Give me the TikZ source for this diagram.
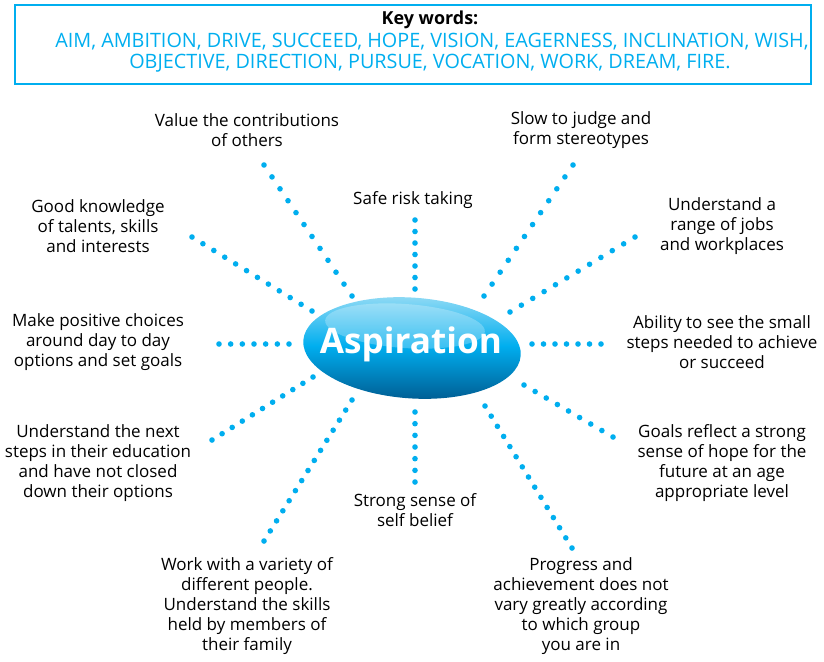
\documentclass[tikz,border=0pt]{standalone}
\usepackage{fontspec}
\setmainfont{Open Sans}
\usetikzlibrary{calc,shapes.geometric}
\definecolor{aspBlue}{RGB}{0,174,239}
\definecolor{aspDark}{RGB}{0,96,150}
\definecolor{aspLight}{RGB}{150,220,245}
\tikzset{
    every node/.append style={align=center},
    lbl/.style={font=\fontsize{14.5}{17}\selectfont,text=black,inner sep=0pt},
    kw/.style={font=\fontsize{16.9}{17}\selectfont,text=aspBlue,inner sep=0pt},
    dotc/.style={fill=aspBlue}
}
% row of round dots from one coordinate to another
\newcommand\dotrow[3]{%
    \foreach \i in {0,...,#3}{%
        \fill[dotc] ($(#1)!{\i/#3}!(#2)$) circle (2.8);}}

\begin{document}
\begin{tikzpicture}[x=0.03cm,y=-0.03cm]
    \useasboundingbox (0,0) rectangle (824,661);

    % key words box
    \draw[aspBlue,line width=2.4] (15,5) rectangle (811,84);
    \node[font=\fontsize{15.3}{17}\selectfont\bfseries,inner sep=0pt] (kwtitle) at (430,20) {Key words:};
    \node[kw] (kwline1) at (432,42) {AIM, AMBITION, DRIVE, SUCCEED, HOPE, VISION, EAGERNESS, INCLINATION, WISH,};
    \node[kw] (kwline2) at (430,63) {OBJECTIVE, DIRECTION, PURSUE, VOCATION, WORK, DREAM, FIRE.};

    % centre blob
    \node[ellipse,rotate=-4,minimum width=186pt,minimum height=86pt,inner sep=0pt,
        top color=aspLight,bottom color=aspDark,middle color=aspBlue] (asp) at (412,348) {};
    \fill[white,opacity=0.25,rotate around={-4:(405,326)}] (405,326) ellipse (80 and 22);
    \node[font=\fontsize{30}{32}\selectfont\bfseries,text=white,inner sep=0pt] (asptext) at (411,344) {Aspiration};

    % labels
    \node[lbl] (value)    at (247,130) {Value the contributions\\of others};
    \node[lbl] (knowl)    at (98,226)  {Good knowledge\\of talents, skills\\and interests};
    \node[lbl] (risk)     at (413,200) {Safe risk taking};
    \node[lbl] (judge)    at (581,130) {Slow to judge and\\form stereotypes};
    \node[lbl] (jobs)     at (722,226) {Understand a\\range of jobs\\and workplaces};
    \node[lbl] (choices)  at (98,342)  {Make positive choices\\around day to day\\options and set goals};
    \node[lbl] (steps)    at (722,342) {Ability to see the small\\steps needed to achieve\\or succeed};
    \node[lbl] (nextstep) at (98,463)  {Understand the next\\steps in their education\\and have not closed\\down their options};
    \node[lbl] (goals)    at (722,463) {Goals reflect a strong\\sense of hope for the\\future at an age\\appropriate level};
    \node[lbl] (belief)   at (415,510) {Strong sense of\\self belief};
    \node[lbl] (variety)  at (247,606) {Work with a variety of\\different people.\\Understand the skills\\held by members of\\their family};
    \node[lbl] (progress) at (581,606) {Progress and\\achievement does not\\vary greatly according\\to which group\\you are in};

    % dot line ends
    \coordinate (valueA) at (264,165);    \coordinate (valueB) at (352,296);
    \coordinate (knowlA) at (192,237);    \coordinate (knowlB) at (312,311);
    \coordinate (riskA) at (415,220);     \coordinate (riskB) at (415,289);
    \coordinate (judgeA) at (573,165);    \coordinate (judgeB) at (484,296);
    \coordinate (jobsA) at (635,237);     \coordinate (jobsB) at (510,312);
    \coordinate (choicesA) at (219,344);  \coordinate (choicesB) at (289,344);
    \coordinate (stepsA) at (601,344);    \coordinate (stepsB) at (532,344);
    \coordinate (nextA) at (212,440);     \coordinate (nextB) at (313,377);
    \coordinate (goalsA) at (613,437);    \coordinate (goalsB) at (524,385);
    \coordinate (beliefA) at (415,482);   \coordinate (beliefB) at (415,412);
    \coordinate (varietyA) at (264,541);  \coordinate (varietyB) at (352,400);
    \coordinate (progressA) at (572,548); \coordinate (progressB) at (485,406);

    \dotrow{valueA}{valueB}{11}
    \dotrow{knowlA}{knowlB}{11}
    \dotrow{riskA}{riskB}{6}
    \dotrow{judgeA}{judgeB}{11}
    \dotrow{jobsA}{jobsB}{11}
    \dotrow{choicesA}{choicesB}{6}
    \dotrow{stepsA}{stepsB}{6}
    \dotrow{nextA}{nextB}{10}
    \dotrow{goalsA}{goalsB}{8}
    \dotrow{beliefA}{beliefB}{6}
    \dotrow{varietyA}{varietyB}{14}
    \dotrow{progressA}{progressB}{14}
\end{tikzpicture}
\end{document}
